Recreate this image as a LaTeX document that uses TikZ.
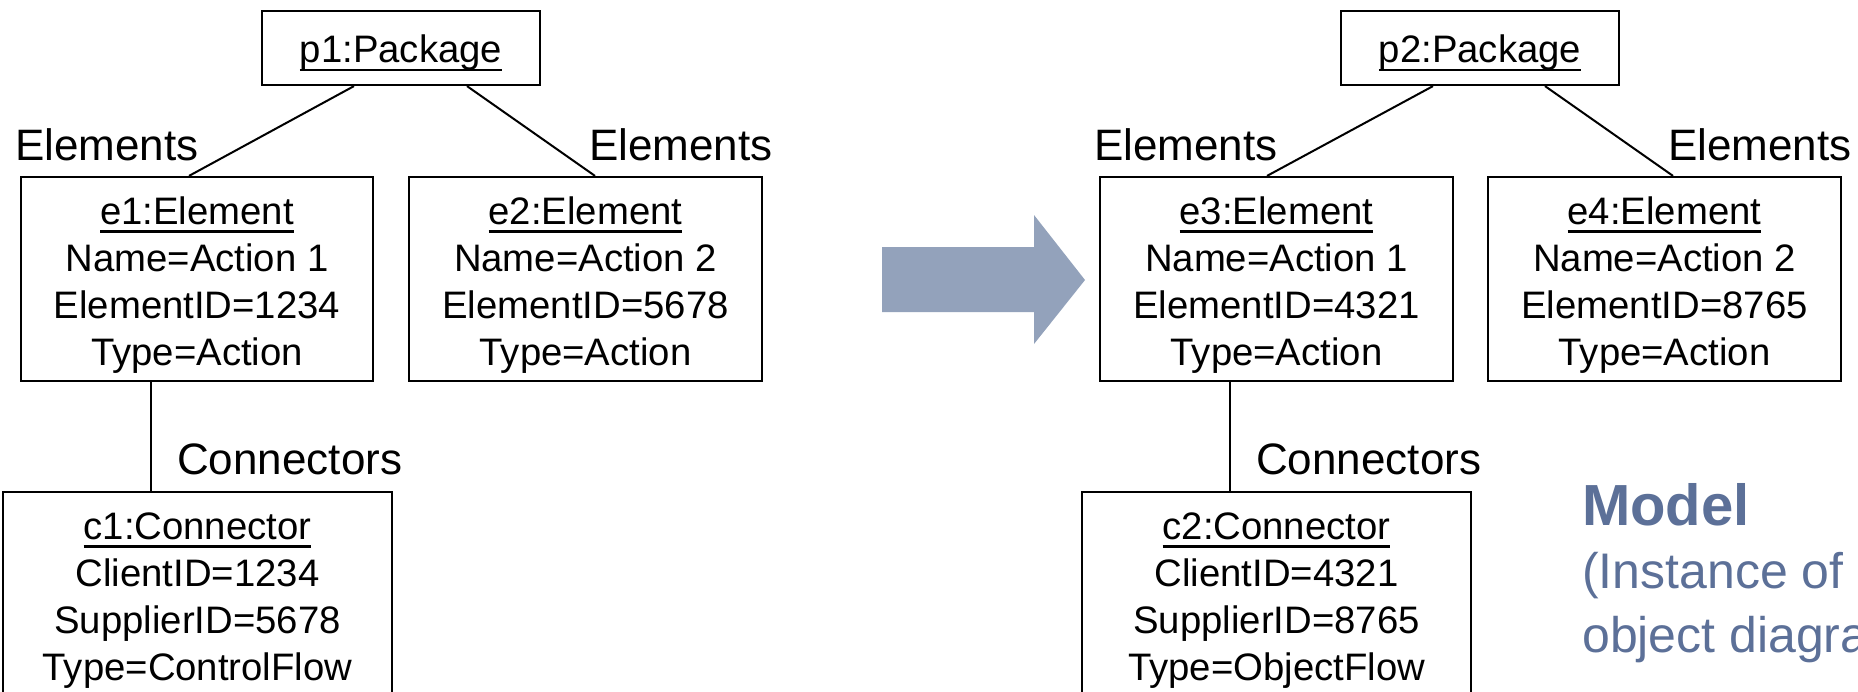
\documentclass[tikz,border=0pt]{standalone}
\usepackage{fontspec}
\setmainfont{Liberation Sans}
\definecolor{modelblue}{RGB}{92,112,152}
\definecolor{arrowblue}{RGB}{147,162,187}
% underlined object name (instance:Class)
\newcommand{\uname}[1]{\setbox0\hbox{#1}\rlap{\rule[-8.5pt]{\wd0}{2.8pt}}\box0}
% centred stack of lines whose reference point is the first baseline
\newcommand{\objlines}[1]{\vtop{\baselineskip=47pt\lineskiplimit=0pt\halign{\hfil##\hfil\cr#1\crcr}}}
\tikzset{
  objbox/.style={draw, line width=2.2pt, inner sep=0pt, minimum height=204pt},
  pkgbox/.style={draw, line width=2.2pt, inner sep=0pt, minimum width=278pt, minimum height=74pt},
  objtext/.style={anchor=base, inner sep=0pt, font=\fontsize{38.3}{47}\selectfont},
  rolelabel/.style={anchor=base west, inner sep=0pt, font=\fontsize{44}{52}\selectfont},
  link/.style={line width=2pt},
  note/.style={anchor=base west, inner sep=0pt, text=modelblue},
}
\begin{document}
\begin{tikzpicture}[x=1pt, y=-1pt]
\useasboundingbox (0,0) rectangle (1858,691);
\clip (0,0) rectangle (1858,691);

% ---------- first package ----------
\node[pkgbox] (p1) at (401,48) {};
\node[objtext] (p1t) at ([yshift=-53pt]p1.north) {\objlines{\uname{p1:Package}}};

\node[objbox, minimum width=352pt] (e1) at (197,279) {};
\node[objtext] (e1t) at ([yshift=-48.5pt]e1.north)
  {\objlines{\uname{e1:Element}\cr Name=Action 1\cr ElementID=1234\cr Type=Action}};

\node[objbox, minimum width=353pt] (e2) at (585.5,279) {};
\node[objtext] (e2t) at ([yshift=-48.5pt]e2.north)
  {\objlines{\uname{e2:Element}\cr Name=Action 2\cr ElementID=5678\cr Type=Action}};

\node[objbox, minimum width=389pt, minimum height=230pt] (c1) at (197.5,607) {};
\node[objtext] (c1t) at ([yshift=-48.5pt]c1.north)
  {\objlines{\uname{c1:Connector}\cr ClientID=1234\cr SupplierID=5678\cr Type=ControlFlow}};

\draw[link] ([xshift=-47pt]p1.south) -- ([xshift=-8pt]e1.north);
\draw[link] ([xshift=66pt]p1.south) -- ([xshift=9.5pt]e2.north);
\draw[link] ([xshift=-46pt]e1.south) -- ([xshift=-46pt]e1.south |- c1.north);

\node[rolelabel] (l1) at (15,160) {Elements};
\node[rolelabel] (l2) at (589,160) {Elements};
\node[rolelabel] (l3) at (177,474) {Connectors};

% ---------- transformation arrow ----------
\fill[arrowblue] (882,247) -- (1034,247) -- (1034,215) -- (1085,280)
  -- (1034,344) -- (1034,312) -- (882,312) -- cycle;

% ---------- second package ----------
\node[pkgbox] (p2) at (1480,48) {};
\node[objtext] (p2t) at ([yshift=-53pt]p2.north) {\objlines{\uname{p2:Package}}};

\node[objbox, minimum width=353pt] (e3) at (1276.5,279) {};
\node[objtext] (e3t) at ([yshift=-48.5pt]e3.north)
  {\objlines{\uname{e3:Element}\cr Name=Action 1\cr ElementID=4321\cr Type=Action}};

\node[objbox, minimum width=353pt] (e4) at (1664.5,279) {};
\node[objtext] (e4t) at ([yshift=-48.5pt]e4.north)
  {\objlines{\uname{e4:Element}\cr Name=Action 2\cr ElementID=8765\cr Type=Action}};

\node[objbox, minimum width=389pt, minimum height=230pt] (c2) at (1276.5,607) {};
\node[objtext] (c2t) at ([yshift=-48.5pt]c2.north)
  {\objlines{\uname{c2:Connector}\cr ClientID=4321\cr SupplierID=8765\cr Type=ObjectFlow}};

\draw[link] ([xshift=-47pt]p2.south) -- ([xshift=-9.5pt]e3.north);
\draw[link] ([xshift=65pt]p2.south) -- ([xshift=8.5pt]e4.north);
\draw[link] ([xshift=-46.5pt]e3.south) -- ([xshift=-46.5pt]e3.south |- c2.north);

\node[rolelabel] (l4) at (1094,160) {Elements};
\node[rolelabel] (l5) at (1668,160) {Elements};
\node[rolelabel] (l6) at (1256,474) {Connectors};

% ---------- caption ----------
\node[note, font=\fontsize{58}{64}\selectfont\bfseries] (mt) at (1582,525) {Model};
\node[note, font=\fontsize{50}{64}\selectfont] (m1) at (1582,588) {(Instance of};
\node[note, font=\fontsize{50}{64}\selectfont] (m2) at (1582,652) {object diagram)};
\end{tikzpicture}
\end{document}
